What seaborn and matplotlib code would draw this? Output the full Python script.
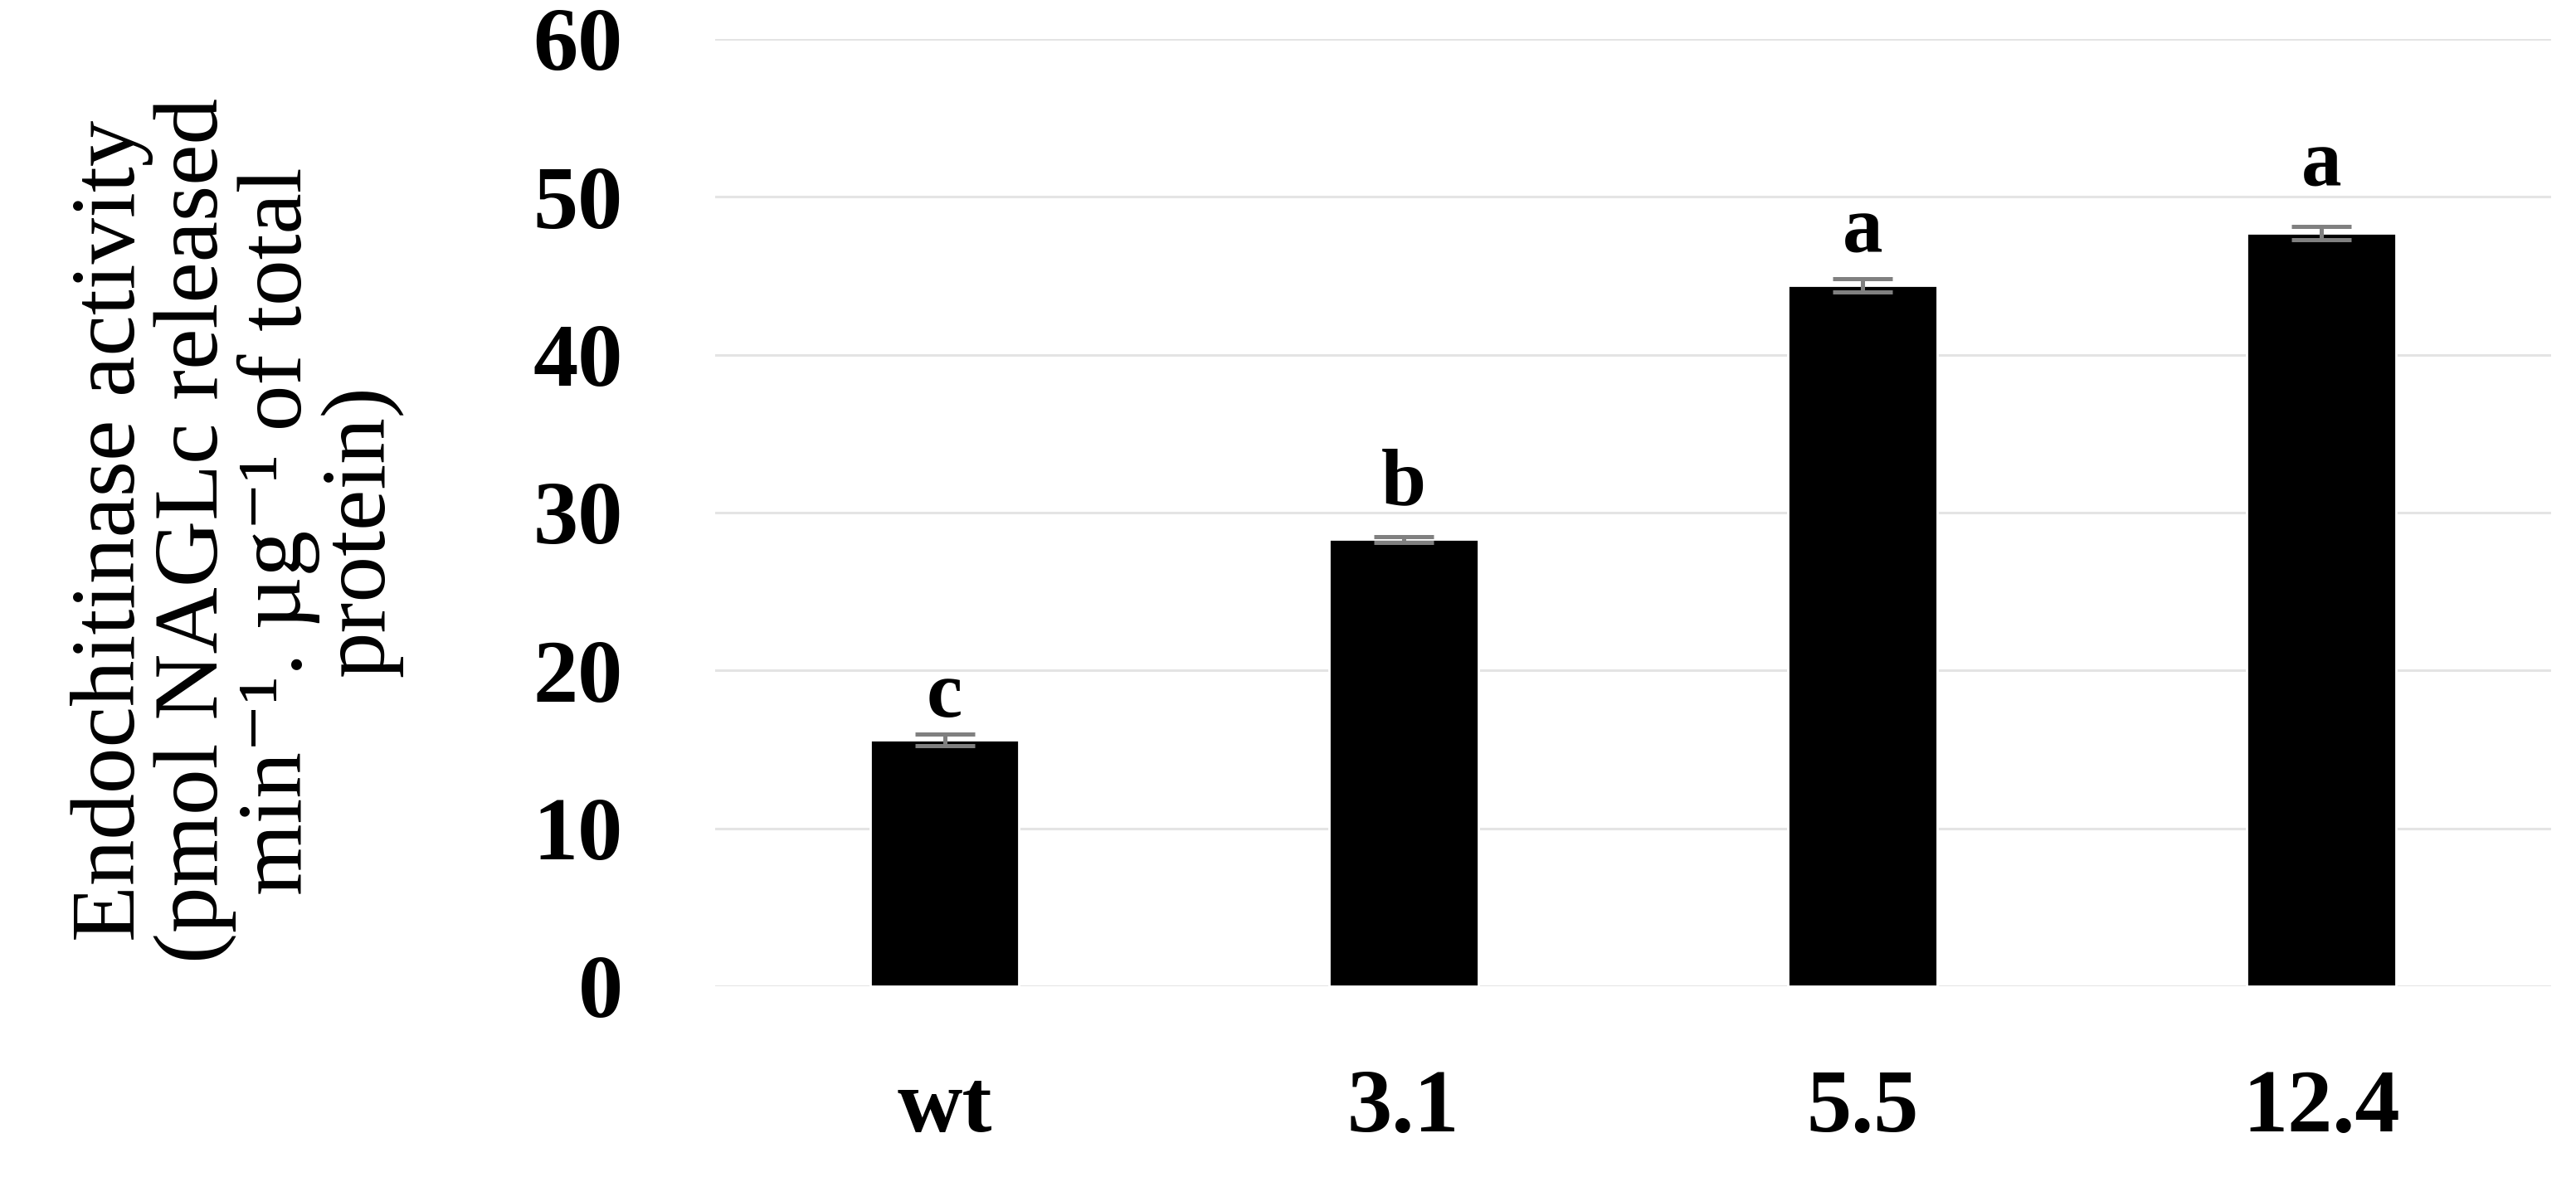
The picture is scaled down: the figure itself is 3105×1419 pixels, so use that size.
import numpy as np
import pandas as pd
import matplotlib
matplotlib.use("Agg")
import matplotlib.pyplot as plt
import seaborn as sns

# values
lines = ['wt', '3.1', '5.5', '12.4']
activity = [15.6, 28.3, 44.4, 47.7]
activity_err = [0.35, 0.2, 0.4, 0.4]
letters = ['c', 'b', 'a', 'a']
letter_y = [17.1, 30.5, 46.5, 50.7]

sns.set_theme(style='white')
plt.rcParams['font.family'] = ['Liberation Serif', 'DejaVu Serif']
plt.rcParams['text.color'] = 'black'
plt.rcParams['xtick.color'] = 'black'
plt.rcParams['ytick.color'] = 'black'

df = pd.DataFrame({'line': lines, 'activity': activity})

fig = plt.figure(figsize=(15.525, 7.095), dpi=200)
ax = fig.add_axes([0.2776, 0.1621, 0.7127, 0.8048])

sns.barplot(data=df, x='line', y='activity', order=lines, color='black',
            width=0.325, errorbar=None, saturation=1, ax=ax, zorder=2)
ax.errorbar(np.arange(len(lines)), activity, yerr=activity_err, fmt='none',
            ecolor='#808080', elinewidth=1.8, capsize=13, capthick=1.8, zorder=3)

for i, (lab, y) in enumerate(zip(letters, letter_y)):
    ax.text(i, y, lab, ha='center', va='baseline', fontsize=35,
            fontweight='bold', color='black')

ax.set_ylim(0, 60)
ax.set_xlim(-0.5, 3.5)
ax.set_yticks(np.arange(0, 61, 10))
ax.yaxis.grid(True, color='#e4e4e4', linewidth=1.1, zorder=0)
ax.set_axisbelow(True)
for s in ax.spines.values():
    s.set_visible(False)
ax.tick_params(axis='both', length=0, labelsize=39, labelcolor='black')
ax.tick_params(axis='y', pad=40)
ax.tick_params(axis='x', pad=36)
for t in ax.get_xticklabels() + ax.get_yticklabels():
    t.set_fontweight('bold')
ax.set_xlabel('')
ax.set_ylabel('')

fig.text(0.092, 0.549,
         'Endochitinase activity\n(pmol NAGLc released\n'
         'min\u207b\u00b9. \u00b5g\u207b\u00b9 of total\nprotein)',
         rotation=90, ha='center', va='center', multialignment='center',
         fontsize=40, linespacing=1.0, color='black')

fig.savefig('out.png', dpi=200, facecolor='white')
